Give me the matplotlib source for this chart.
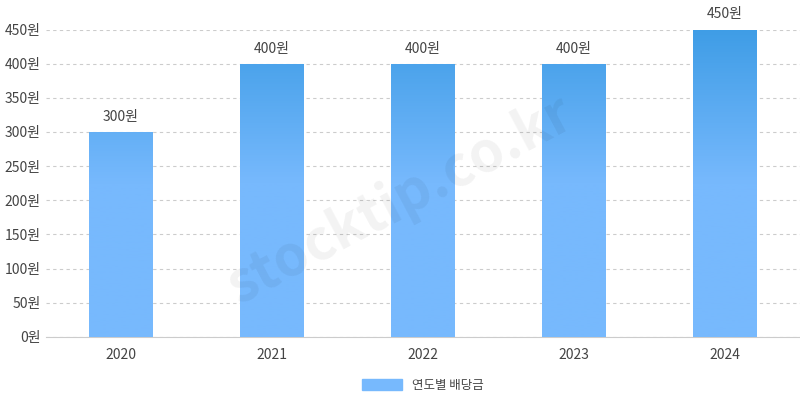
import matplotlib.pyplot as plt
import numpy as np
from matplotlib.colors import LinearSegmentedColormap
from matplotlib.patches import Patch

plt.rcParams['font.family'] = ['Noto Sans CJK KR', 'DejaVu Sans']

years = ["2020", "2021", "2022", "2023", "2024"]
dividends = [300, 400, 400, 400, 450]
yticks = [0, 50, 100, 150, 200, 250, 300, 350, 400, 450]

fig = plt.figure(figsize=(8, 4), dpi=100)
ax = fig.add_axes([0.057, 0.158, 0.943, 0.768])

x = np.arange(len(years))
bars = ax.bar(x, dividends, width=0.42, color="none", zorder=3)

cmap = LinearSegmentedColormap.from_list("g", ["#77b9fd", "#77b9fd", "#3f9de6"])
grad = np.linspace(0, 1, 256).reshape(-1, 1)
for b in bars:
    im = ax.imshow(grad, cmap=cmap, origin="lower", aspect="auto",
                   extent=[-0.5, len(years) - 0.5, 0, 450], zorder=3)
    im.set_clip_path(b)
    ax.text(b.get_x() + b.get_width() / 2, b.get_height() + 12,
            f"{b.get_height():.0f}원", ha="center", va="bottom",
            fontsize=10, color="#444")

ax.set_xlim(-0.5, len(years) - 0.5)
ax.set_ylim(0, 450)
ax.set_xticks(x, years)
ax.set_yticks(yticks, [f"{v}원" for v in yticks])
ax.tick_params(axis="both", length=0, labelsize=10, colors="#444")
ax.tick_params(axis="x", pad=8)
ax.grid(axis="y", linestyle=(0, (3, 3)), color="#cccccc", linewidth=0.8, zorder=0)
for s in ["top", "right", "left"]:
    ax.spines[s].set_visible(False)
ax.spines["bottom"].set_color("#cccccc")

fig.text(0.5, 0.5, "stocktip.co.kr", fontsize=40, fontweight="bold",
         color="#000000", alpha=0.05, rotation=28, ha="center", va="center")

ax.legend(handles=[Patch(color="#77b9fd", label="연도별 배당금")],
          loc="upper center", bbox_to_anchor=(0.5, -0.1), frameon=False,
          fontsize=9, handlelength=3.2, handleheight=1.0, labelcolor="#444")

fig.savefig("out.png")
